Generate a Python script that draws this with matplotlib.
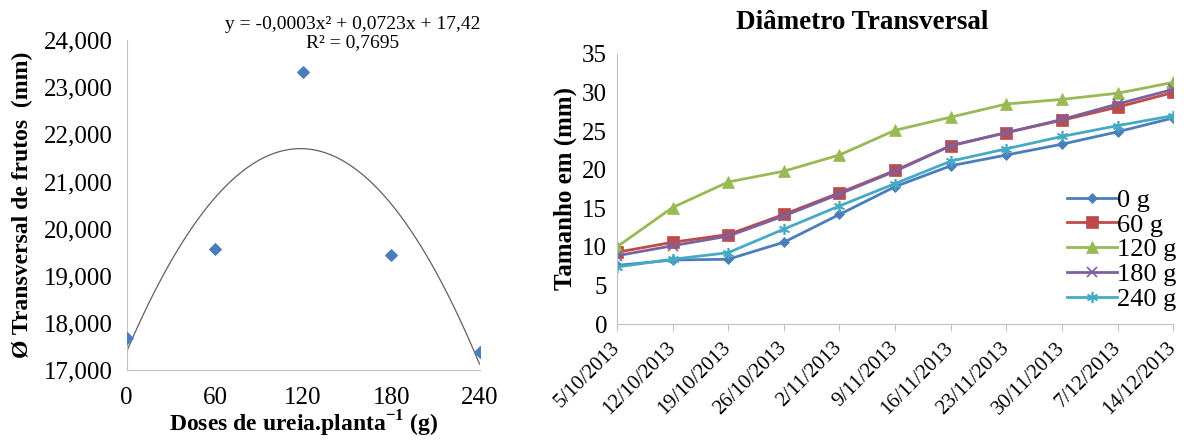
import numpy as np
import matplotlib
matplotlib.use("Agg")
import matplotlib.pyplot as plt
from matplotlib.ticker import FuncFormatter

plt.rcParams['font.family'] = ['Liberation Serif', 'DejaVu Serif']
plt.rcParams['mathtext.fontset'] = 'custom'
plt.rcParams['mathtext.rm'] = 'Liberation Serif'
plt.rcParams['mathtext.bf'] = 'Liberation Serif:bold'

# left chart: dose response
doses = [0, 60, 120, 180, 240]
diam_mean = [17.67, 19.56, 23.32, 19.45, 17.39]
eq_text = "y = -0,0003x² + 0,0723x + 17,42\nR² = 0,7695"

# right chart: time series
dates = ["5/10/2013", "12/10/2013", "19/10/2013", "26/10/2013", "2/11/2013",
         "9/11/2013", "16/11/2013", "23/11/2013", "30/11/2013", "7/12/2013",
         "14/12/2013"]
g0 = [7.6, 8.3, 8.4, 10.6, 14.2, 17.8, 20.5, 21.9, 23.3, 24.9, 26.7]
g60 = [9.3, 10.6, 11.6, 14.2, 17.0, 19.9, 23.1, 24.8, 26.4, 28.1, 30.0]
g120 = [10.0, 15.1, 18.4, 19.8, 21.9, 25.1, 26.8, 28.5, 29.1, 29.9, 31.3]
g180 = [8.85, 10.15, 11.4, 14.0, 16.85, 19.8, 23.1, 24.8, 26.5, 28.5, 30.4]
g240 = [7.4, 8.4, 9.25, 12.3, 15.3, 18.2, 21.1, 22.7, 24.3, 25.7, 27.0]
series_names = ["0 g", "60 g", "120 g", "180 g", "240 g"]

fig = plt.figure(figsize=(11.84, 4.41), dpi=100)

# ---- left
ax1 = fig.add_axes([0.107, 0.161, 0.298, 0.748])
ax1.scatter(doses, diam_mean, marker='D', s=34, color='#4a7ebb', zorder=3)
coef = np.polyfit(doses, diam_mean, 2)
xx = np.linspace(0, 240, 200)
ax1.plot(xx, np.polyval(coef, xx), color='#606060', lw=0.9)
ax1.set_xlim(0, 240)
ax1.set_ylim(17, 24)
ax1.set_xticks(doses)
ax1.set_yticks(range(17, 25))
ax1.yaxis.set_major_formatter(FuncFormatter(lambda v, p: f"{v:.3f}".replace('.', ',')))
for s in ['top', 'right']:
    ax1.spines[s].set_visible(False)
for s in ['left', 'bottom']:
    ax1.spines[s].set_color('#c0c0c0')
ax1.tick_params(axis='y', length=0, labelsize=18, pad=10)
ax1.tick_params(axis='x', length=0, labelsize=18, pad=12)
ax1.set_xlabel(r"Doses de ureia.planta$^{\mathbf{-1}}$ (g)", fontsize=17,
               fontweight='bold', labelpad=0)
ax1.set_ylabel("Ø Transversal de frutos  (mm)", fontsize=17, fontweight='bold',
               labelpad=8)
ax1.text(0.64, 1.02, eq_text, transform=ax1.transAxes, ha='center', va='center',
         fontsize=14, linespacing=1.15)

# ---- right
ax2 = fig.add_axes([0.521, 0.265, 0.470, 0.613])
x = np.arange(len(dates))
styles = [
    (g0, '#4a7ebb', 'D', 5.5),
    (g60, '#be4b48', 's', 8),
    (g120, '#98b954', '^', 8),
    (g180, '#7d60a0', 'x', 7),
    (g240, '#46aac5', (6, 2, 0), 8),
]
for (vals, c, m, ms), name in zip(styles, series_names):
    ax2.plot(x, vals, color=c, marker=m, ms=ms, lw=2, label=name,
             markeredgewidth=1.2 if m in ('x',) or isinstance(m, tuple) else 0.5,
             markeredgecolor=c)
ax2.set_xlim(0, len(dates) - 1)
ax2.set_ylim(0, 35)
ax2.set_yticks(range(0, 36, 5))
ax2.set_xticks(x)
ax2.set_xticklabels(dates, rotation=45, ha='right', va='center',
                    rotation_mode='anchor')
for s in ['top', 'right']:
    ax2.spines[s].set_visible(False)
for s in ['left', 'bottom']:
    ax2.spines[s].set_color('#c0c0c0')
ax2.tick_params(axis='y', length=0, labelsize=18, pad=7)
ax2.tick_params(axis='x', length=5, color='#c0c0c0', direction='out',
                labelsize=15, pad=10)
ax2.set_title("Diâmetro Transversal", fontsize=19.5, fontweight='bold', pad=18,
              x=0.44)
ax2.set_ylabel("Tamanho em (mm)", fontsize=18, fontweight='bold', labelpad=4)
ax2.legend(loc='lower right', bbox_to_anchor=(1.03, 0.0), frameon=False,
           fontsize=19, handlelength=1.9, handletextpad=0.0, labelspacing=0.05,
           borderaxespad=0.1)

fig.savefig("out.png", dpi=100)
